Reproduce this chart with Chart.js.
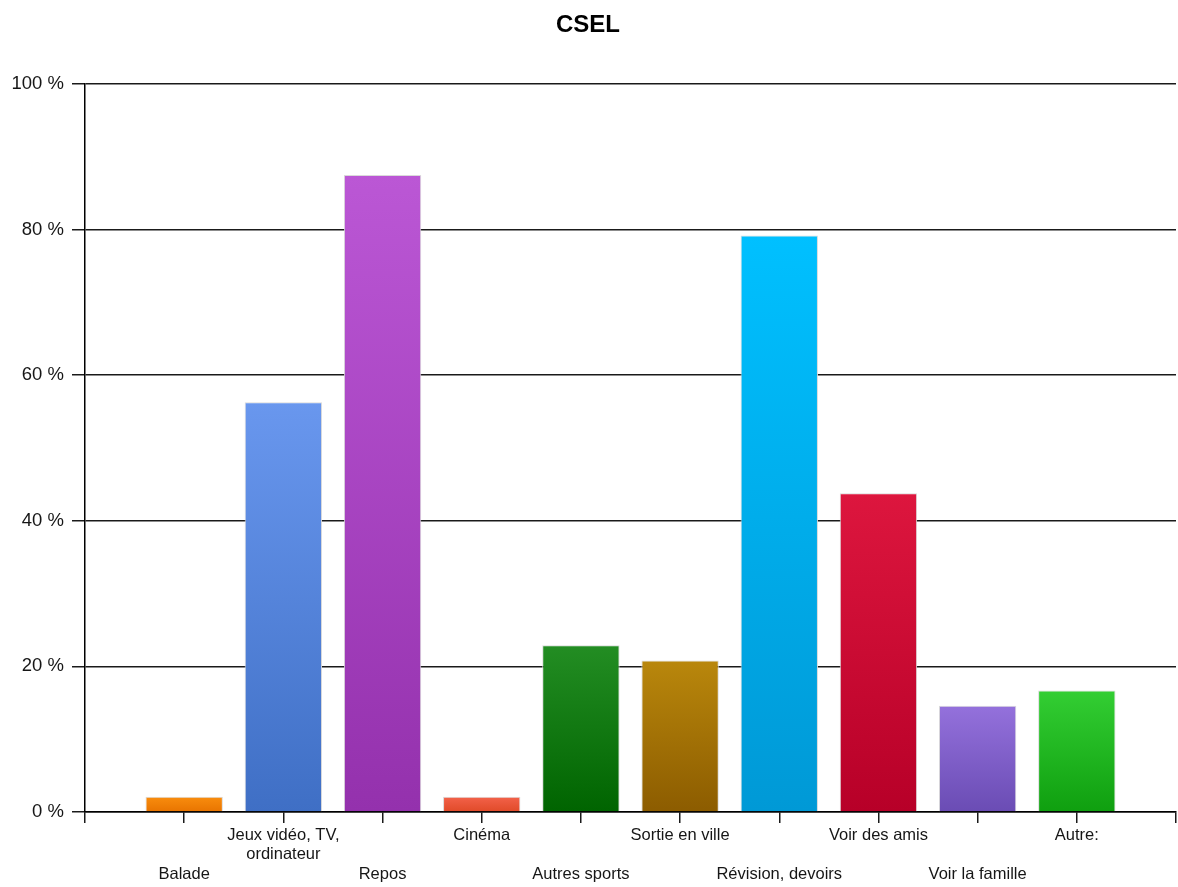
<!DOCTYPE html>
<html lang="fr">
<head>
<meta charset="utf-8">
<title>CSEL</title>
<script src="https://cdn.jsdelivr.net/npm/chart.js@4.4.1/dist/chart.umd.min.js"></script>
<style>
  html, body { margin: 0; padding: 0; background: #ffffff; }
  #wrap { width: 1178px; height: 887px; }
  canvas { display: block; }
</style>
</head>
<body>
<div id="wrap"><canvas id="chart" width="1178" height="887"></canvas></div>
<script>
// Activities (share of respondents, %)
const categories = [
  'Balade',
  ['Jeux vidéo, TV,', 'ordinateur'],
  'Repos',
  'Cinéma',
  'Autres sports',
  'Sortie en ville',
  'Révision, devoirs',
  'Voir des amis',
  'Voir la famille',
  'Autre:'
];
const values = [2.1, 56.3, 87.5, 2.1, 22.9, 20.8, 79.2, 43.8, 14.6, 16.7];
const yTickValues = [0, 20, 40, 60, 80, 100];
const titleText = 'CSEL';

// Per-bar gradient colours (top -> bottom)
const topColors = ['#f98d0e', '#6997ee', '#bb57d5', '#f3624a', '#238d23', '#b9870c', '#00c0ff', '#dd163e', '#9471dc', '#33ce33'];
const bottomColors = ['#e87400', '#3f6fc5', '#9431ad', '#e04a28', '#006400', '#8c5c00', '#0099d6', '#b70028', '#6a4cb4', '#0f9f0f'];

// Empty slots at both ends so the axis runs from edge to edge with ticks at bar centres
const axisLabels = [''].concat(categories, ['']);
const axisValues = [null].concat(values, [null]);

const FONT = "'Liberation Sans', Arial, sans-serif";

function barGradient(ctx) {
  const idx = ctx.dataIndex - 1;
  const chart = ctx.chart;
  const y = chart.scales && chart.scales.y;
  if (ctx.type !== 'data' || idx < 0 || idx >= values.length) return '#888';
  if (!y) return topColors[idx];
  const yTop = y.getPixelForValue(ctx.raw);
  const yBase = y.getPixelForValue(0);
  if (!isFinite(yTop) || !isFinite(yBase) || yTop === yBase) return topColors[idx];
  const g = chart.ctx.createLinearGradient(0, yTop, 0, yBase);
  g.addColorStop(0, topColors[idx]);
  g.addColorStop(1, bottomColors[idx]);
  return g;
}

new Chart(document.getElementById('chart'), {
  type: 'bar',
  data: {
    labels: axisLabels,
    datasets: [{
      data: axisValues,
      backgroundColor: barGradient,
      borderColor: '#dadada',
      borderWidth: 1,
      barPercentage: 0.78,
      categoryPercentage: 1
    }]
  },
  options: {
    responsive: false,
    animation: false,
    events: [],
    layout: { padding: { left: 0, right: 2, top: 0, bottom: 0 } },
    plugins: {
      legend: { display: false },
      tooltip: { enabled: false },
      title: {
        display: true,
        text: titleText,
        color: '#000000',
        font: { family: FONT, size: 24, weight: 'bold', lineHeight: 1.2 },
        padding: { top: 11, bottom: 44.2 }
      }
    },
    scales: {
      x: {
        type: 'category',
        offset: false,
        grid: {
          display: true,
          offset: false,
          drawOnChartArea: false,
          drawTicks: true,
          tickLength: 11,
          color: '#1a1a1a',
          lineWidth: 1.5
        },
        border: { display: true, color: '#000000', width: 1.5 },
        ticks: {
          autoSkip: false,
          maxRotation: 0,
          minRotation: 0,
          padding: 2,
          color: '#161616',
          font: { family: FONT, size: 16.5, lineHeight: 1.21 },
          callback: function (value, index) {
            const label = axisLabels[index];
            if (label === '' || label == null) return '';
            const lines = Array.isArray(label) ? label : [label];
            // alternate rows: first category sits on the lower row
            return ((index - 1) % 2 === 0) ? ['', ''].concat(lines) : lines;
          }
        },
        afterFit: function (scale) { scale.height = 75; }
      },
      y: {
        min: 0,
        max: 100,
        afterBuildTicks: function (scale) {
          scale.ticks = yTickValues.map(v => ({ value: v }));
        },
        grid: {
          display: true,
          drawOnChartArea: true,
          drawTicks: true,
          tickLength: 13,
          color: '#1a1a1a',
          lineWidth: 1.5
        },
        border: { display: true, color: '#000000', width: 1.5 },
        ticks: {
          padding: 8,
          color: '#161616',
          font: { family: FONT, size: 18.5 },
          callback: function (value) { return value + ' %'; }
        },
        afterFit: function (scale) { scale.width = 85; }
      }
    }
  }
});
</script>
</body>
</html>
